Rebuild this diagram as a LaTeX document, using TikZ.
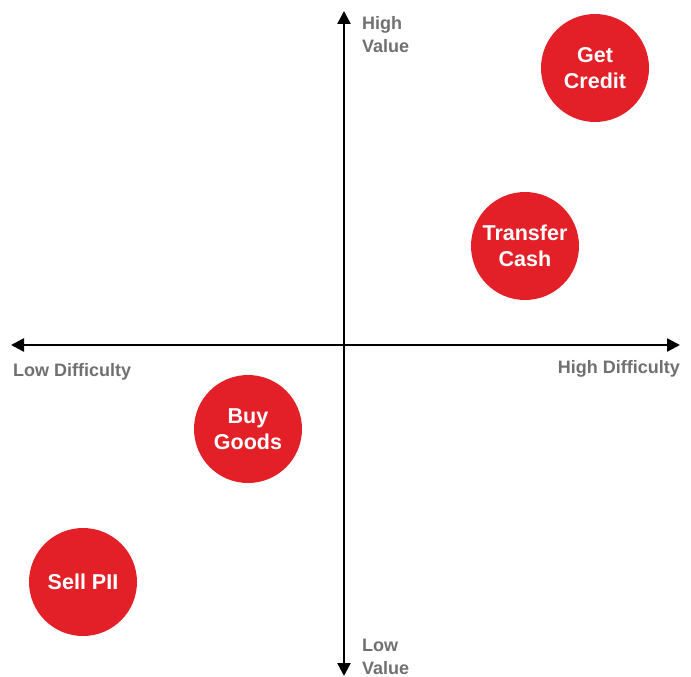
\documentclass[tikz,border=0pt]{standalone}
\usepackage{fontspec}
\setmainfont{Liberation Sans}
\usetikzlibrary{arrows.meta}
\definecolor{dotred}{HTML}{E32028}
\definecolor{axisgray}{HTML}{707070}
\begin{document}
\begin{tikzpicture}[x=1pt,y=-1pt,
  bubble/.style={circle,fill=dotred,minimum size=108pt,inner sep=0pt,text=white,align=center,font=\bfseries\fontsize{21.5}{26}\selectfont},
  axlabel/.style={text=axisgray,font=\bfseries\fontsize{18}{23}\selectfont,inner sep=0pt},
  axis/.style={line width=2.4pt,{Triangle[length=13pt,width=13pt]}-{Triangle[length=13pt,width=13pt]}}]
\useasboundingbox (0,0) rectangle (691,677);
\coordinate (top) at (344,11);
\coordinate (bot) at (344,676);
\coordinate (left) at (11,345);
\coordinate (right) at (680,345);
\draw[axis] (bot) -- (top);
\draw[axis] (left) -- (right);
\node[axlabel,anchor=north west,align=left] (hv) at (362,16.5) {High\\Value};
\node[axlabel,anchor=north west,align=left] (lv) at (362,639) {Low\\Value};
\node[axlabel,anchor=west] (ld) at (13,371.5) {Low Difficulty};
\node[axlabel,anchor=east] (hd) at (680,368.5) {High Difficulty};
\node[bubble] (gc) at (595,68) {Get\\Credit};
\node[bubble] (tc) at (525,246) {Transfer\\Cash};
\node[bubble] (bg) at (248,429) {Buy\\Goods};
\node[bubble] (sp) at (83,582) {Sell PII};
\end{tikzpicture}
\end{document}
